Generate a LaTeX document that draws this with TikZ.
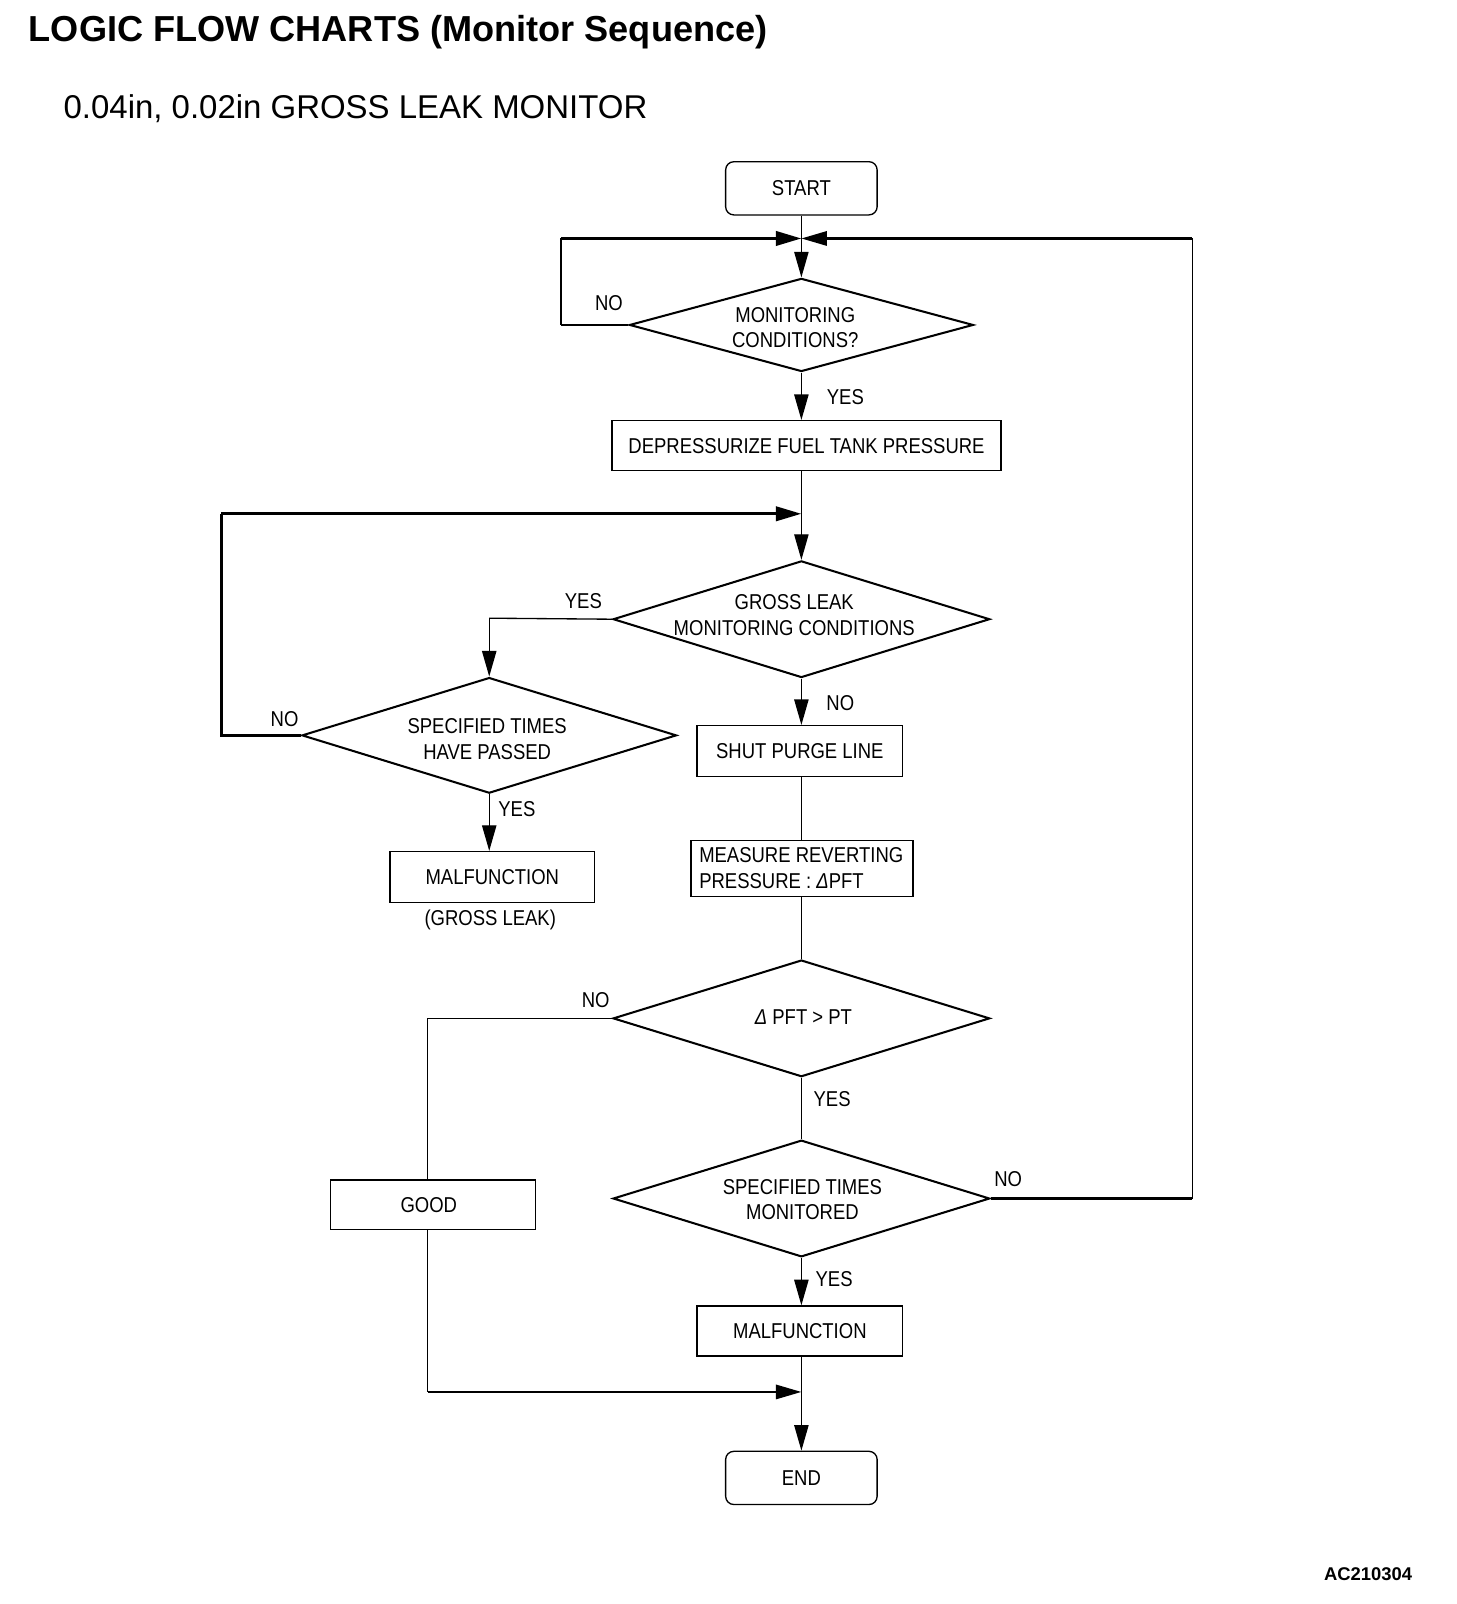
\documentclass[tikz,border=0pt]{standalone}
\usepackage{fontspec}
\setmainfont{Liberation Sans}
\newfontfamily\bodyfont[FakeStretch=0.86]{Liberation Sans}
\usetikzlibrary{arrows.meta,shapes.geometric}
\tikzset{
  base/.style={font=\bodyfont\fontsize{21}{25}\selectfont},
  box/.style={base,draw,line width=1.3pt,inner sep=0pt,minimum width=200pt,minimum height=50pt},
  term/.style={box,rounded corners=8pt,minimum width=148pt,minimum height=52pt},
  dia/.style={draw,diamond,line width=2pt,inner sep=0pt,minimum width=368pt,minimum height=114pt},
  dtext/.style={base,align=center,inner sep=0pt},
  lbl/.style={base,inner sep=0pt},
  flow/.style={line width=1.3pt},
  medl/.style={line width=2pt},
  arr/.style={line width=1.3pt,-{Triangle[length=25pt,width=14pt]}},
  loopl/.style={line width=3pt},
  looparr/.style={line width=3pt,-{Triangle[length=25pt,width=14pt]}},
  medarr/.style={line width=2.2pt,-{Triangle[length=25pt,width=14pt]}},
}
\begin{document}
\begin{tikzpicture}[x=1pt,y=-1pt]
\useasboundingbox (0,0) rectangle (1422.6,1567.2);
% titles
\node[anchor=base west,inner sep=0pt,font=\bfseries\fontsize{35.3}{40}\selectfont] (title) at (28,41) {LOGIC FLOW CHARTS (Monitor Sequence)};
\node[anchor=base west,inner sep=0pt,font=\fontsize{32.2}{36}\selectfont] (subtitle) at (62,116) {0.04in, 0.02in GROSS LEAK MONITOR};
\node[anchor=base east,inner sep=0pt,font=\bfseries\fontsize{18}{20}\selectfont] (code) at (1380,1544) {AC210304};
% nodes
\node[term] (start) at (783,184) {START};
\node[dia,minimum width=336pt,minimum height=91pt] (d1) at (783,317.5) {};
\node[dtext] (d1t) at (777,320) {MONITORING\\CONDITIONS?};
\node[box,minimum width=380pt,minimum height=49pt] (dep) at (788,435.5) {DEPRESSURIZE FUEL TANK PRESSURE};
\node[dia] (d2) at (783,605) {};
\node[dtext] (d2t) at (776,601) {GROSS LEAK\\MONITORING CONDITIONS};
\node[dia,minimum width=366pt,minimum height=113pt] (d3) at (478,718.5) {};
\node[dtext] (d3t) at (476,722) {SPECIFIED TIMES\\HAVE PASSED};
\node[box] (mal1) at (481,857) {MALFUNCTION};
\node[lbl] (gl) at (479,899) {(GROSS LEAK)};
\node[box,minimum width=201pt] (shut) at (781.5,734) {SHUT PURGE LINE};
\node[box,minimum width=217pt,minimum height=55pt] (meas) at (783.5,848.5) {};
\node[base,align=left,anchor=west,inner sep=0pt] (meast) at (683,848) {MEASURE REVERTING\\PRESSURE : \textit{Δ}PFT};
\node[dia] (d4) at (783,995) {};
\node[dtext] (d4t) at (785,994) {\textit{Δ} PFT > PT};
\node[dia] (d5) at (783,1171) {};
\node[dtext] (d5t) at (784,1172) {SPECIFIED TIMES\\MONITORED};
\node[box,minimum height=48pt] (good) at (423,1177) {};
\node[lbl] (goodt) at (419,1177) {GOOD};
\node[box,minimum width=201pt,minimum height=49pt] (mal2) at (781.5,1300.5) {MALFUNCTION};
\node[term] (end) at (783,1444) {END};
% labels
\node[lbl] (l1) at (595,296) {NO};
\node[lbl] (l2) at (826,388) {YES};
\node[lbl] (l3) at (570,587) {YES};
\node[lbl] (l4) at (278,703) {NO};
\node[lbl] (l5) at (505,791) {YES};
\node[lbl] (l6) at (821,687) {NO};
\node[lbl] (l7) at (582,977) {NO};
\node[lbl] (l8) at (813,1074) {YES};
\node[lbl] (l9) at (985,1152) {NO};
\node[lbl] (l10) at (815,1250) {YES};
% coordinates
\coordinate (m1) at (783,233);
\coordinate (c1) at (548,233);
\coordinate (c2) at (1165,233);
\coordinate (m2) at (783,502);
\coordinate (c3) at (216,502);
\coordinate (c4) at (478,604);
\coordinate (c5) at (418,995);
\coordinate (m3) at (783,1360);
\coordinate (c6) at (418,1360);
% connectors
\draw[arr] (start.south) -- (d1.north);
\draw[medl] (d1.west) -- (d1.west -| c1);
\draw[line width=1.6pt] (d1.west -| c1) -- (c1);
\draw[looparr] (c1) -- (m1);
\draw[medl] (d5.east) -- (d5.east -| c2);
\draw[flow] (d5.east -| c2) -- (c2);
\draw[medarr] (c2) -- (m1);
\draw[arr] (d1.south) -- (d1.south |- dep.north);
\draw[flow] (d1.south |- dep.south) -- (m2);
\draw[arr] (m2) -- (d2.north);
\draw[loopl] (d3.west) -| (c3);
\draw[looparr] (c3) -- (m2);
\draw[flow] (d2.west) -- (c4);
\draw[arr] (c4) -- (d3.north);
\draw[arr] (d3.south) -- (d3.south |- mal1.north);
\draw[arr] (d2.south) -- (d2.south |- shut.north);
\draw[flow] (d2.south |- shut.south) -- (d2.south |- meas.north);
\draw[flow] (d2.south |- meas.south) -- (d4.north);
\draw[flow] (d4.west) -- (c5) -- (c5 |- good.north);
\draw[flow] (c5 |- good.south) -- (c6);
\draw[medarr] (c6) -- (m3);
\draw[flow] (d4.south) -- (d5.north);
\draw[arr] (d5.south) -- (d5.south |- mal2.north);
\draw[flow] (d5.south |- mal2.south) -- (m3);
\draw[arr] (m3) -- (end.north);
\end{tikzpicture}
\end{document}
